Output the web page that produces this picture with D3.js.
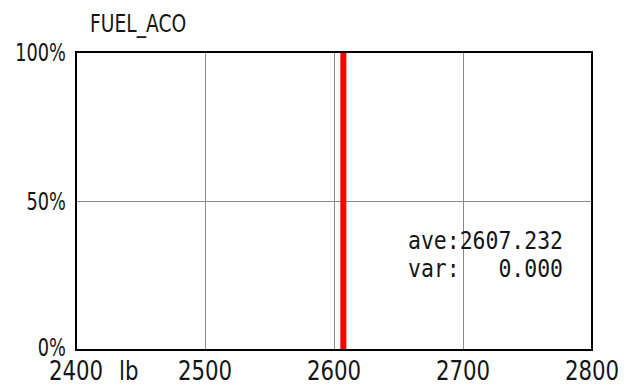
<!DOCTYPE html>
<html>
<head>
<meta charset="utf-8">
<script src="https://cdn.jsdelivr.net/npm/d3@7"></script>
<style>
  html, body { margin: 0; padding: 0; background: #fff; }
  svg { display: block; }
  text { font-family: "DejaVu Sans", sans-serif; fill: #151515; }
  .mono { font-family: "DejaVu Sans Mono", monospace; white-space: pre; }
</style>
</head>
<body>
<svg id="chart" width="631" height="387"></svg>
<script>
// Distribution of FUEL_ACO weight
const title = "FUEL_ACO";
const unit = "lb";
const xTicks = [2400, 2500, 2600, 2700, 2800];
const yTicks = [0, 50, 100];
const samples = [2607.232];
const stats = { ave: 2607.232, var: 0.000 };

const W = 631, H = 387;
const margin = { top: 52, right: 39, bottom: 37, left: 76 };
const svg = d3.select("#chart");

const x = d3.scaleLinear().domain([2400, 2800]).range([margin.left, W - margin.right]);
const y = d3.scaleLinear().domain([0, 100]).range([H - margin.bottom, margin.top]);

// tall, narrow lettering: place a label and squeeze it horizontally
const place = (px, py, sx) => `translate(${px},${py}) scale(${sx},1)`;

// grid
const grid = svg.append("g").attr("stroke", "#8a8a8a").attr("stroke-width", 1);
grid.selectAll("line.v").data(xTicks.slice(1, -1)).join("line")
  .attr("x1", d => Math.round(x(d)) + 0.5).attr("x2", d => Math.round(x(d)) + 0.5)
  .attr("y1", y(0)).attr("y2", y(100));
grid.selectAll("line.h").data(yTicks.slice(1, -1)).join("line")
  .attr("x1", x(2400)).attr("x2", x(2800))
  .attr("y1", d => Math.round(y(d)) + 0.5).attr("y2", d => Math.round(y(d)) + 0.5);

// sample bars
svg.selectAll("line.bar").data(samples).join("line")
  .attr("x1", d => x(d)).attr("x2", d => x(d))
  .attr("y1", y(0)).attr("y2", y(100))
  .attr("stroke", "#ff0000").attr("stroke-width", 6);

// frame
svg.append("rect")
  .attr("x", x(2400)).attr("y", y(100))
  .attr("width", x(2800) - x(2400)).attr("height", y(0) - y(100))
  .attr("fill", "none").attr("stroke", "#000").attr("stroke-width", 2);

// title
svg.append("text").attr("transform", place(90, 32, 0.78)).attr("font-size", 24).text(title);

// y labels
svg.selectAll("text.yl").data(yTicks).join("text")
  .attr("transform", d => place(66, y(d) + 9 - (d === 0 ? 3 : 0), 0.74))
  .attr("text-anchor", "end").attr("font-size", 24)
  .text(d => d + "%");

// x labels
svg.selectAll("text.xl").data(xTicks).join("text")
  .attr("transform", d => place(x(d), 380, 0.82))
  .attr("text-anchor", "middle").attr("font-size", 26)
  .text(d => d);
svg.append("text").attr("transform", place(119, 380, 0.82)).attr("font-size", 26).text(unit);

// statistics
const fmt = d3.format(".3f");
const lines = [
  "ave:" + fmt(stats.ave).padStart(8),
  "var:" + fmt(stats.var).padStart(8)
];
svg.selectAll("text.stat").data(lines).join("text")
  .attr("class", "mono")
  .attr("x", 408).attr("y", (d, i) => 249 + i * 28)
  .attr("font-size", 24)
  .attr("textLength", 155).attr("lengthAdjust", "spacingAndGlyphs")
  .text(d => d);
</script>
</body>
</html>
